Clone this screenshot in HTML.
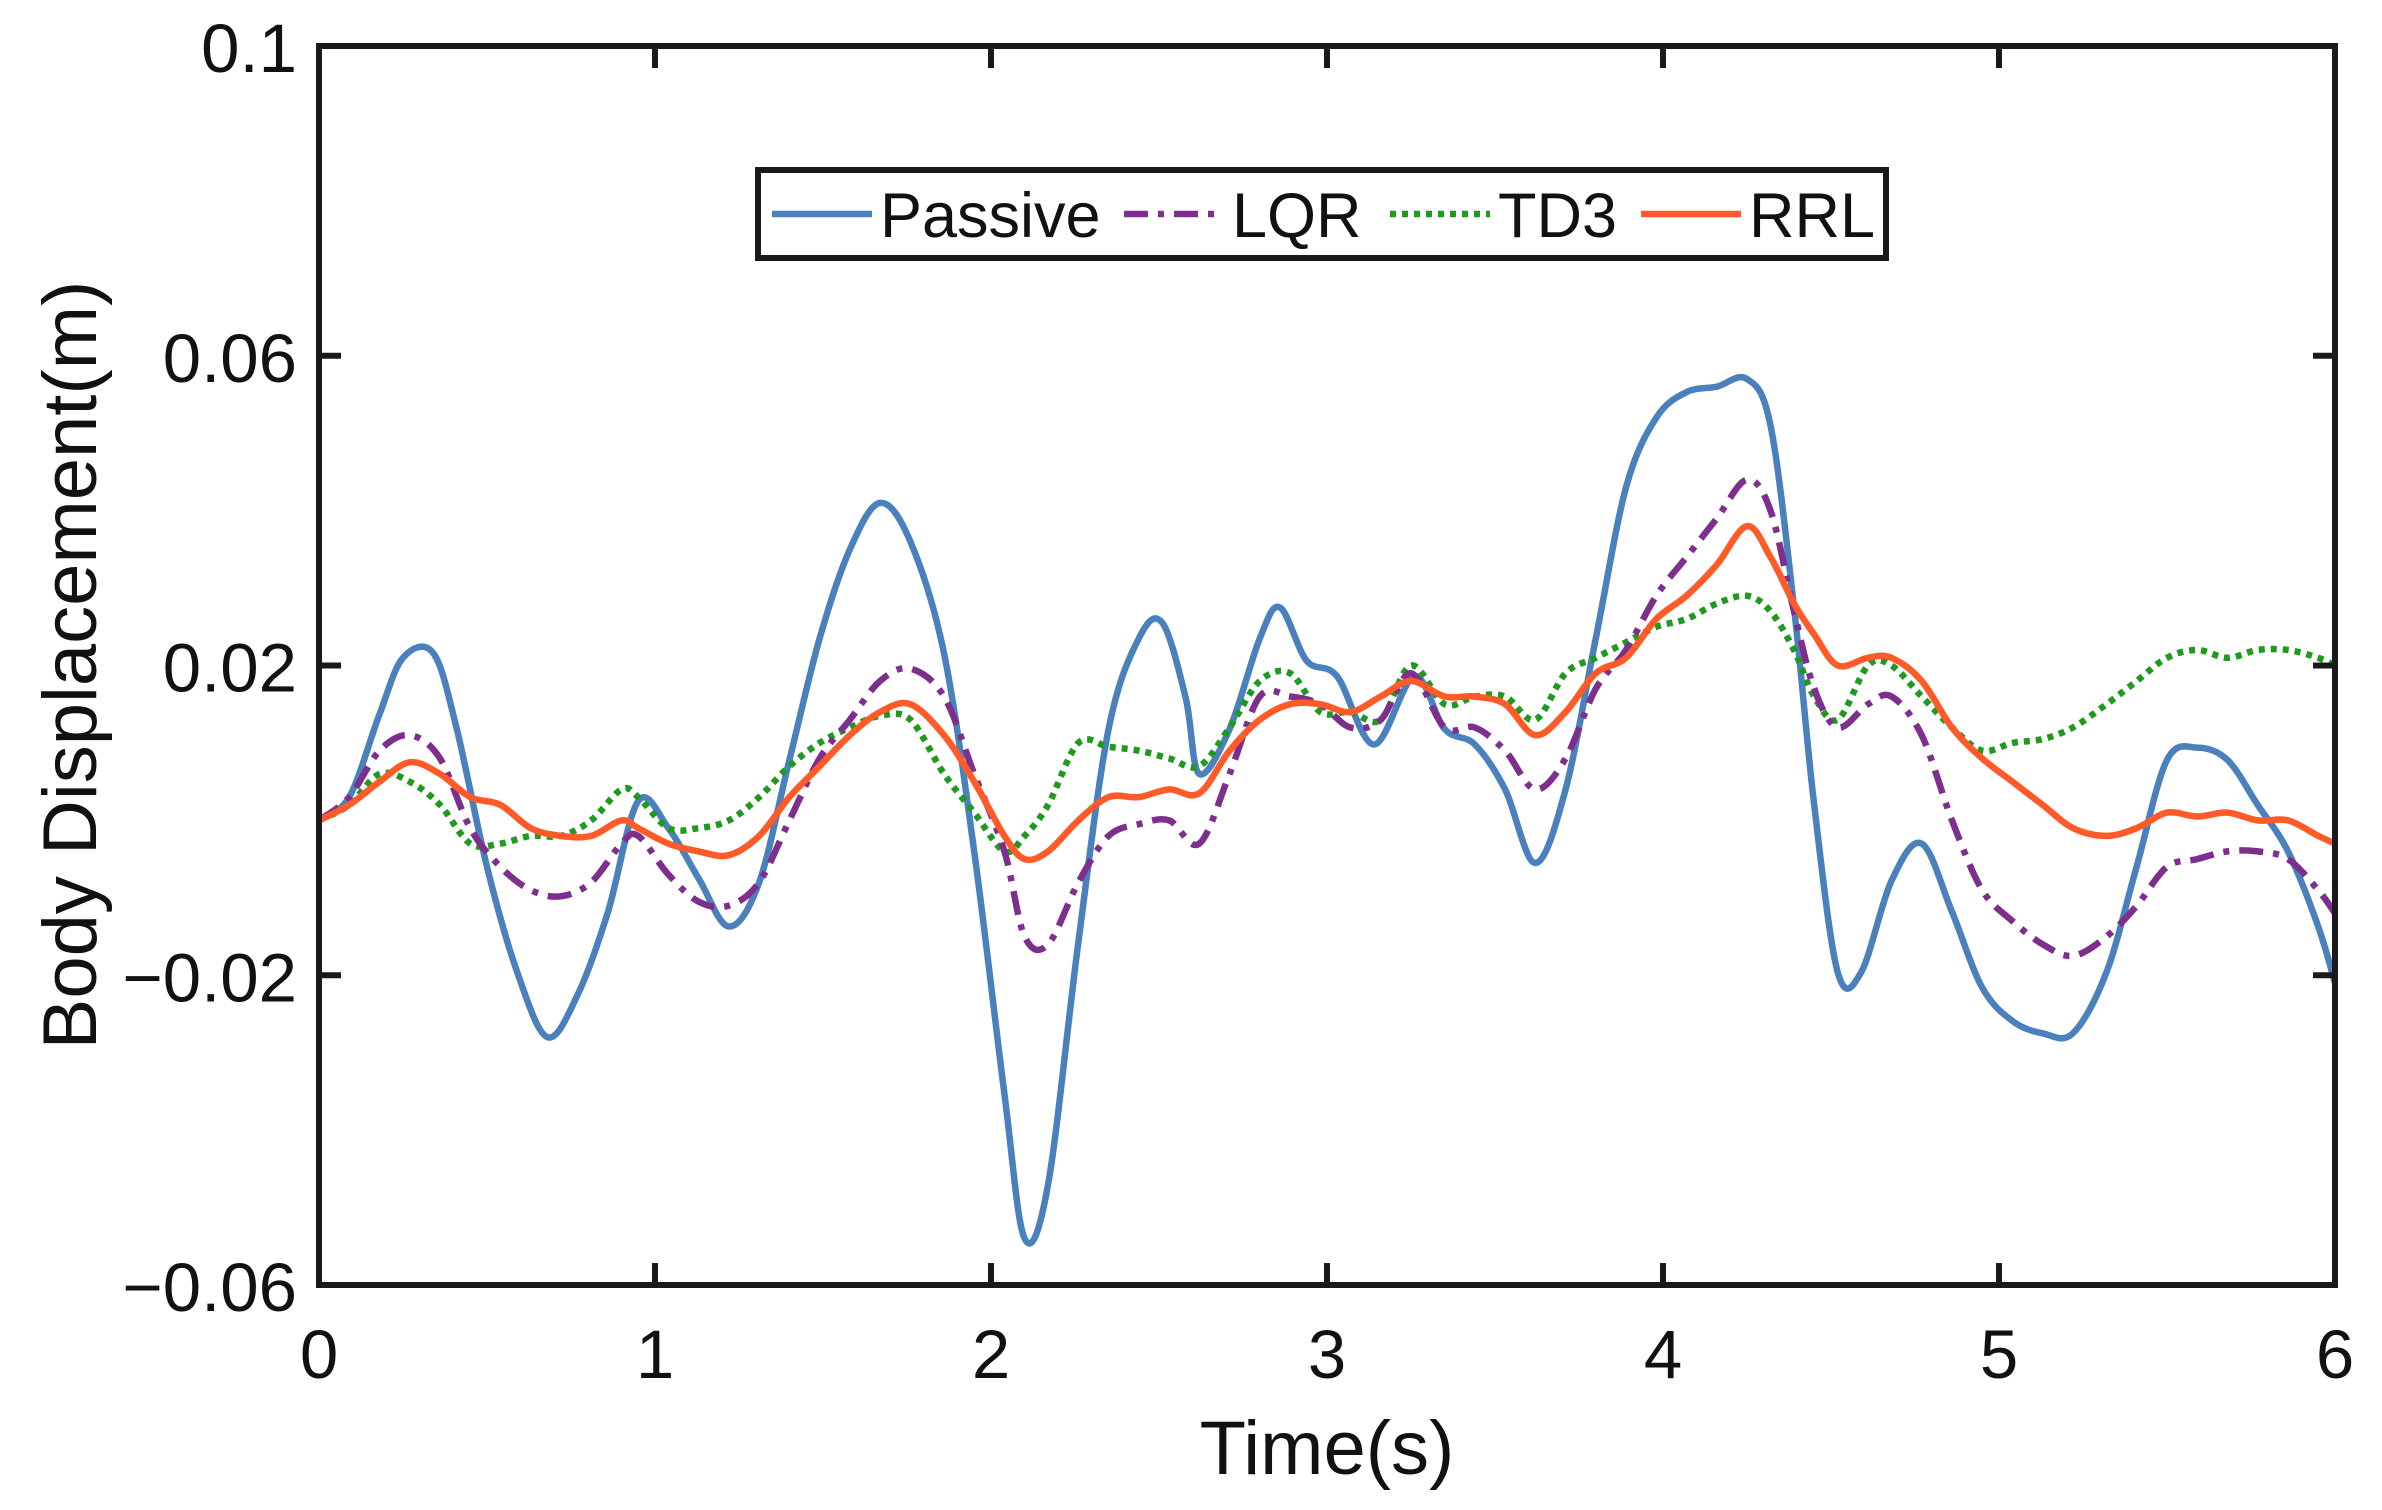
<!DOCTYPE html>
<html><head><meta charset="utf-8"><style>
html,body{margin:0;padding:0;background:#fff}
svg{display:block}
text{font-family:"Liberation Sans",Arial,sans-serif;fill:#111}
</style></head><body>
<svg id="chart" width="2382" height="1510" viewBox="0 0 2382 1510" xmlns="http://www.w3.org/2000/svg">
<g id="series"></g>
<g id="axes"></g>
</svg>
<script>
const xTicks=[0,1,2,3,4,5,6];
const xTickLabels=["0","1","2","3","4","5","6"];
const yTicks=[-0.06,-0.02,0.02,0.06,0.1];
const yTickLabels=["\u22120.06","\u22120.02","0.02","0.06","0.1"];
const passiveT=[0,0.09,0.18,0.25,0.34,0.41,0.5,0.59,0.68,0.77,0.86,0.95,1.04,1.13,1.22,1.31,1.40,1.49,1.58,1.67,1.76,1.86,1.95,2.04,2.10,2.17,2.26,2.35,2.44,2.51,2.58,2.62,2.71,2.80,2.86,2.94,3.03,3.14,3.26,3.35,3.44,3.53,3.62,3.71,3.80,3.89,3.98,4.07,4.16,4.25,4.32,4.39,4.45,4.52,4.59,4.68,4.77,4.86,4.95,5.04,5.13,5.22,5.32,5.41,5.50,5.59,5.68,5.77,5.86,5.95,6.0];
const passiveV=[0,0.003,0.0137,0.021,0.0216,0.0118,-0.006,-0.0196,-0.028,-0.0225,-0.0118,0.0025,-0.001,-0.0075,-0.0137,-0.008,0.0078,0.0235,0.035,0.041,0.036,0.0216,-0.004,-0.0353,-0.054,-0.047,-0.0157,0.0118,0.0235,0.0255,0.0157,0.006,0.0118,0.0235,0.0275,0.0206,0.0186,0.0098,0.0186,0.0118,0.0098,0.004,-0.0055,0.004,0.0235,0.043,0.052,0.0553,0.056,0.057,0.051,0.0275,0.002,-0.0196,-0.0196,-0.0078,-0.003,-0.0118,-0.0216,-0.0259,-0.0275,-0.0275,-0.0196,-0.0059,0.0078,0.0094,0.0078,0.002,-0.004,-0.0137,-0.021];
const commonT=[0,0.09,0.18,0.27,0.36,0.45,0.54,0.63,0.72,0.81,0.9,0.95,1.04,1.13,1.22,1.31,1.40,1.49,1.58,1.67,1.76,1.86,1.95,2.04,2.10,2.17,2.26,2.35,2.44,2.53,2.62,2.71,2.80,2.89,2.98,3.07,3.16,3.25,3.35,3.44,3.53,3.62,3.71,3.80,3.89,3.98,4.07,4.16,4.25,4.32,4.39,4.45,4.52,4.61,4.68,4.77,4.86,4.95,5.04,5.13,5.22,5.32,5.41,5.50,5.59,5.68,5.77,5.86,5.95,6.0];
const lqrV=[0,0.003,0.009,0.011,0.008,-0.001,-0.006,-0.009,-0.0098,-0.008,-0.003,-0.002,-0.007,-0.0105,-0.011,-0.008,0.0,0.008,0.013,0.018,0.0196,0.016,0.006,-0.004,-0.015,-0.016,-0.008,-0.002,-0.0005,0.0,-0.003,0.006,0.016,0.016,0.015,0.012,0.013,0.019,0.012,0.012,0.009,0.004,0.008,0.017,0.022,0.029,0.034,0.039,0.044,0.040,0.027,0.017,0.012,0.015,0.016,0.011,0.0,-0.009,-0.013,-0.016,-0.0175,-0.015,-0.011,-0.006,-0.005,-0.004,-0.004,-0.005,-0.009,-0.012];
const td3V=[0,0.002,0.006,0.005,0.002,-0.003,-0.003,-0.002,-0.002,0.0,0.004,0.003,-0.001,-0.001,0.0,0.003,0.007,0.010,0.012,0.0135,0.013,0.006,0.001,-0.004,-0.002,0.002,0.010,0.0095,0.009,0.008,0.007,0.012,0.018,0.019,0.014,0.014,0.013,0.020,0.015,0.016,0.016,0.013,0.019,0.021,0.023,0.025,0.026,0.028,0.029,0.027,0.022,0.016,0.013,0.020,0.020,0.016,0.012,0.009,0.010,0.0105,0.012,0.015,0.018,0.021,0.022,0.021,0.022,0.022,0.021,0.020];
const rrlV=[0,0.002,0.005,0.0075,0.006,0.003,0.002,-0.001,-0.002,-0.002,0.0,-0.001,-0.003,-0.004,-0.0045,-0.002,0.003,0.007,0.011,0.014,0.015,0.011,0.005,-0.002,-0.005,-0.004,0.0,0.003,0.003,0.004,0.0035,0.009,0.013,0.015,0.015,0.014,0.016,0.018,0.016,0.016,0.015,0.011,0.014,0.019,0.021,0.026,0.029,0.033,0.038,0.034,0.028,0.024,0.020,0.021,0.021,0.018,0.012,0.008,0.005,0.002,-0.001,-0.002,-0.001,0.001,0.0005,0.001,0.0,0.0,-0.002,-0.003];
const seriesNames=["Passive","LQR","TD3","RRL"];

const L=319,R=2335,T=46,B=1285,XMIN=0,XMAX=6,YMIN=-0.06,YMAX=0.1;
const NS="http://www.w3.org/2000/svg";
function X(t){return L+(t-XMIN)/(XMAX-XMIN)*(R-L);}
function Y(v){return B-(v-YMIN)/(YMAX-YMIN)*(B-T);}
function mk(tag,attrs,parent){const e=document.createElementNS(NS,tag);for(const k in attrs)e.setAttribute(k,attrs[k]);parent.appendChild(e);return e;}
const sg=document.getElementById('series'),ag=document.getElementById('axes');
function curve(ts,vs){let pts=ts.map((t,i)=>[X(t),Y(vs[i])]);let d="M"+pts[0][0].toFixed(1)+","+pts[0][1].toFixed(1);
for(let i=0;i<pts.length-1;i++){const p0=pts[Math.max(0,i-1)],p1=pts[i],p2=pts[i+1],p3=pts[Math.min(pts.length-1,i+2)];
const c1=[p1[0]+(p2[0]-p0[0])/6,p1[1]+(p2[1]-p0[1])/6],c2=[p2[0]-(p3[0]-p1[0])/6,p2[1]-(p3[1]-p1[1])/6];
d+="C"+c1[0].toFixed(1)+","+c1[1].toFixed(1)+" "+c2[0].toFixed(1)+","+c2[1].toFixed(1)+" "+p2[0].toFixed(1)+","+p2[1].toFixed(1);}return d;}
const styles=[{c:"#4a80bb",da:""},{c:"#7e2f8e",da:"24,10,6,10"},{c:"#1f9a1f",da:"6,6"},{c:"#ff5a28",da:""}];
const data=[[passiveT,passiveV],[commonT,lqrV],[commonT,td3V],[commonT,rrlV]];
const names=['passive-line','lqr-line','td3-line','rrl-line'];
[0,2,1,3].forEach(i=>{
 const p=mk('path',{d:curve(data[i][0],data[i][1]),fill:"none",stroke:styles[i].c,"stroke-width":6.5,"stroke-dasharray":styles[i].da,"stroke-linejoin":"round"},sg);
 
 
});
const fr=mk('rect',{x:L,y:T,width:R-L,height:B-T,fill:"none",stroke:"#1a1a1a","stroke-width":6},ag);


xTicks.forEach((t,i)=>{
 mk('line',{x1:X(t),x2:X(t),y1:B,y2:B-22,stroke:"#1a1a1a","stroke-width":6},ag);
 mk('line',{x1:X(t),x2:X(t),y1:T,y2:T+22,stroke:"#1a1a1a","stroke-width":6},ag);
 const tx=mk('text',{x:X(t),y:1378,"font-size":69,"text-anchor":"middle"},ag);tx.textContent=xTickLabels[i];
 
 
});
yTicks.forEach((v,i)=>{
 mk('line',{x1:L,x2:L+22,y1:Y(v),y2:Y(v),stroke:"#1a1a1a","stroke-width":6},ag);
 mk('line',{x1:R,x2:R-22,y1:Y(v),y2:Y(v),stroke:"#1a1a1a","stroke-width":6},ag);
 const tx=mk('text',{x:297,y:Y(v)+26,"font-size":69,"text-anchor":"end"},ag);tx.textContent=yTickLabels[i];
 
 
});
const xl=mk('text',{x:1327,y:1474,"font-size":76,"text-anchor":"middle"},ag);xl.textContent="Time(s)";


const yl=mk('text',{x:0,y:0,"font-size":76,"text-anchor":"middle",transform:"translate(96,665) rotate(-90)"},ag);yl.textContent="Body Displacement(m)";


const lg=mk('g',{},ag);


mk('rect',{x:758,y:170,width:1128,height:88,fill:"#fff",stroke:"#1a1a1a","stroke-width":6},lg);
const lx=[772,1124,1390,1641];
seriesNames.forEach((n,i)=>{
 const ln=mk('line',{x1:lx[i],x2:lx[i]+100,y1:214,y2:214,stroke:styles[i].c,"stroke-width":6.5,"stroke-dasharray":styles[i].da},lg);
 
 
 const tx=mk('text',{x:lx[i]+108,y:237,"font-size":63},lg);tx.textContent=n;
 
 
});
</script>
</body></html>
